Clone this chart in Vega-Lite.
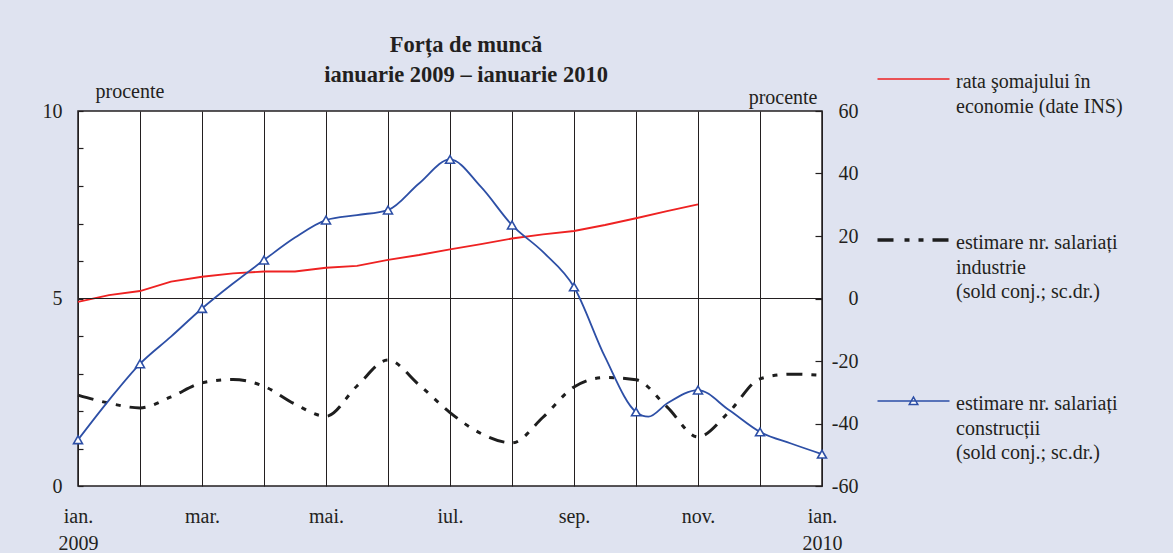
{
  "$schema": "https://vega.github.io/schema/vega-lite/v6.json",
  "width": 744,
  "height": 375,
  "autosize": {"type": "none"},
  "padding": {"left": 78, "top": 111, "right": 351, "bottom": 67},
  "background": "#dfe3f0",
  "config": {
    "view": {"fill": "white", "stroke": "#231f20", "strokeWidth": 1.5},
    "font": "Liberation Serif",
    "axis": {"labelFont": "Liberation Serif", "labelFontSize": 20, "labelColor": "#231f20", "titleFont": "Liberation Serif", "titleFontSize": 20, "titleFontWeight": "normal", "titleColor": "#231f20", "tickColor": "#231f20", "tickWidth": 1.2}
  },
  "title": {
    "text": ["Forța de muncă", "ianuarie 2009 – ianuarie 2010"],
    "font": "Liberation Serif",
    "fontSize": 22.5,
    "fontWeight": "bold",
    "color": "#231f20",
    "anchor": "middle",
    "frame": "group",
    "dx": 16,
    "offset": -17,
    "lineHeight": 29.5
  },
  "datasets": {
    "somaj": [
      {"serie": "s", "luna": 0, "v": 4.91}, {"serie": "s", "luna": 0.5, "v": 5.09}, {"serie": "s", "luna": 1, "v": 5.2},
      {"serie": "s", "luna": 1.5, "v": 5.45}, {"serie": "s", "luna": 2, "v": 5.58}, {"serie": "s", "luna": 2.5, "v": 5.67},
      {"serie": "s", "luna": 3, "v": 5.72}, {"serie": "s", "luna": 3.5, "v": 5.72}, {"serie": "s", "luna": 4, "v": 5.82},
      {"serie": "s", "luna": 4.5, "v": 5.87}, {"serie": "s", "luna": 5, "v": 6.03}, {"serie": "s", "luna": 5.5, "v": 6.16},
      {"serie": "s", "luna": 6, "v": 6.31}, {"serie": "s", "luna": 6.5, "v": 6.45}, {"serie": "s", "luna": 7, "v": 6.6},
      {"serie": "s", "luna": 7.5, "v": 6.71}, {"serie": "s", "luna": 8, "v": 6.8}, {"serie": "s", "luna": 8.5, "v": 6.96},
      {"serie": "s", "luna": 9, "v": 7.14}, {"serie": "s", "luna": 9.5, "v": 7.33}, {"serie": "s", "luna": 10, "v": 7.51}
    ],
    "industrie": [
      {"serie": "i", "luna": 0, "v": -30.9}, {"serie": "i", "luna": 0.5, "v": -33.5}, {"serie": "i", "luna": 1, "v": -35.0},
      {"serie": "i", "luna": 1.5, "v": -31.5}, {"serie": "i", "luna": 2, "v": -27.0}, {"serie": "i", "luna": 2.5, "v": -25.9},
      {"serie": "i", "luna": 3, "v": -28.1}, {"serie": "i", "luna": 3.5, "v": -33.8}, {"serie": "i", "luna": 4, "v": -37.7},
      {"serie": "i", "luna": 4.5, "v": -28.0}, {"serie": "i", "luna": 5, "v": -19.7}, {"serie": "i", "luna": 5.5, "v": -27.6},
      {"serie": "i", "luna": 6, "v": -36.5}, {"serie": "i", "luna": 6.5, "v": -43.2}, {"serie": "i", "luna": 7, "v": -46.2},
      {"serie": "i", "luna": 7.5, "v": -38.0}, {"serie": "i", "luna": 8, "v": -28.3}, {"serie": "i", "luna": 8.5, "v": -25.3},
      {"serie": "i", "luna": 9, "v": -26.0}, {"serie": "i", "luna": 9.5, "v": -34.7}, {"serie": "i", "luna": 10, "v": -44.3},
      {"serie": "i", "luna": 10.5, "v": -36.3}, {"serie": "i", "luna": 11, "v": -25.7}, {"serie": "i", "luna": 11.5, "v": -24.2},
      {"serie": "i", "luna": 12, "v": -24.6}
    ],
    "constructii": [
      {"serie": "c", "luna": 0, "v": -45.2}, {"serie": "c", "luna": 0.5, "v": -32.5}, {"serie": "c", "luna": 1, "v": -20.9},
      {"serie": "c", "luna": 1.5, "v": -12.2}, {"serie": "c", "luna": 2, "v": -3.2}, {"serie": "c", "luna": 2.5, "v": 4.8},
      {"serie": "c", "luna": 3, "v": 12.3}, {"serie": "c", "luna": 3.5, "v": 19.5}, {"serie": "c", "luna": 4, "v": 25.1},
      {"serie": "c", "luna": 4.5, "v": 26.7}, {"serie": "c", "luna": 5, "v": 28.3}, {"serie": "c", "luna": 5.5, "v": 36.8},
      {"serie": "c", "luna": 6, "v": 44.5}, {"serie": "c", "luna": 6.5, "v": 35.7}, {"serie": "c", "luna": 7, "v": 23.5},
      {"serie": "c", "luna": 7.5, "v": 14.9}, {"serie": "c", "luna": 8, "v": 3.7}, {"serie": "c", "luna": 8.5, "v": -18.7},
      {"serie": "c", "luna": 9, "v": -36.3}, {"serie": "c", "luna": 9.2, "v": -37.8}, {"serie": "c", "luna": 9.5, "v": -33.6},
      {"serie": "c", "luna": 10, "v": -29.3}, {"serie": "c", "luna": 10.5, "v": -35.7}, {"serie": "c", "luna": 11, "v": -42.7},
      {"serie": "c", "luna": 11.5, "v": -46.4}, {"serie": "c", "luna": 12, "v": -49.8}
    ],
    "zero": [{"luna": 0, "v": 0}, {"luna": 12, "v": 0}]
  },
  "encoding": {
    "x": {
      "field": "luna", "type": "quantitative",
      "scale": {"domain": [0, 12], "nice": false, "zero": false},
      "axis": {
        "values": [0, 1, 2, 3, 4, 5, 6, 7, 8, 9, 10, 11, 12],
        "labelExpr": "datum.value === 0 ? ['ian.', '2009'] : datum.value === 12 ? ['ian.', '2010'] : datum.value === 2 ? 'mar.' : datum.value === 4 ? 'mai.' : datum.value === 6 ? 'iul.' : datum.value === 8 ? 'sep.' : datum.value === 10 ? 'nov.' : ''",
        "grid": true, "gridColor": "#231f20", "gridWidth": 1, "gridOpacity": 1,
        "ticks": false, "domain": false, "labelFlush": false, "labelOverlap": false,
        "labelPadding": 20, "labelBaseline": "top", "labelLineHeight": 27, "title": null
      }
    }
  },
  "layer": [
    {
      "data": {"name": "somaj"},
      "mark": {"type": "line", "strokeWidth": 1.8},
      "encoding": {
        "y": {
          "field": "v", "type": "quantitative",
          "scale": {"domain": [0, 10], "nice": false, "zero": false},
          "axis": {
            "orient": "left",
            "offset": -5,
            "values": [0, 1, 2, 3, 4, 5, 6, 7, 8, 9, 10],
            "labelExpr": "datum.value % 5 === 0 ? '' + datum.value : ''",
            "labelOverlap": false,
            "ticks": true,
            "tickSize": 5,
            "labelPadding": 16,
            "domain": false, "grid": false,
            "title": "procente", "titleAngle": 0, "titleX": 12, "titleY": -14,
            "titleAlign": "left", "titleBaseline": "alphabetic"
          }
        },
        "color": {
          "field": "serie", "type": "nominal",
          "scale": {"domain": ["s", "i", "c"], "range": ["#ee2222", "#1e1e1e", "#2d4fa6"]},
          "legend": {
            "orient": "none", "legendX": 799, "legendY": -42,
            "direction": "vertical", "columns": 1,
            "title": null, "padding": 0,
            "symbolType": "stroke", "symbolSize": 5184, "symbolStrokeWidth": 1.5, "symbolOffset": 26.5,
            "labelOffset": 32.5, "labelFontSize": 20, "labelFont": "Liberation Serif", "labelColor": "#231f20",
            "labelBaseline": "top", "labelLimit": 400, "rowPadding": 89, "gridAlign": "all",
            "labelExpr": "datum.value === 's' ? ['rata şomajului în', 'economie (date INS)'] : datum.value === 'i' ? ['estimare nr. salariați', 'industrie', '(sold conj.; sc.dr.)'] : ['estimare nr. salariați', 'construcții', '(sold conj.; sc.dr.)']",
            "encode": {
              "symbols": {"update": {
                "shape": {"signal": "datum.value === 'c' ? 'M-1,0H1M0,-0.11L0.12,0.1H-0.12Z' : 'M-1,0H1'"},
                "strokeDash": {"signal": "datum.value === 'i' ? [16, 11, 5, 9, 5, 9] : [1, 0]"},
                "strokeWidth": {"signal": "datum.value === 'i' ? 3.5 : 1.5"},
                "fill": {"value": "white"}
              }},
              "labels": {"update": {"dy": {"value": -7}, "lineHeight": {"value": 24.5}}}
            }
          }
        }
      }
    },
    {
      "encoding": {
        "y": {
          "field": "v", "type": "quantitative",
          "scale": {"domain": [-60, 60], "nice": false, "zero": false},
          "axis": {
            "orient": "right",
            "offset": -7,
            "values": [-60, -40, -20, 0, 20, 40, 60],
            "labelExpr": "'' + datum.value",
            "ticks": true,
            "tickSize": 7, "labelAlign": "right", "labelPadding": 36,
            "domain": false, "grid": false,
            "title": "procente", "titleAngle": 0, "titleX": 2, "titleY": -8,
            "titleAlign": "right", "titleBaseline": "alphabetic"
          }
        }
      },
      "layer": [
        {
          "data": {"name": "zero"},
          "mark": {"type": "line", "color": "#231f20", "strokeWidth": 1.2}
        },
        {
          "data": {"name": "industrie"},
          "mark": {"type": "line", "strokeWidth": 3, "strokeDash": [16, 9, 5, 9, 5, 9], "interpolate": "monotone"},
          "encoding": {"color": {"field": "serie", "type": "nominal"}}
        },
        {
          "data": {"name": "constructii"},
          "mark": {"type": "line", "strokeWidth": 1.8, "interpolate": "monotone"},
          "encoding": {"color": {"field": "serie", "type": "nominal"}}
        },
        {
          "data": {"name": "constructii"},
          "transform": [{"filter": "datum.luna % 1 === 0"}],
          "mark": {"type": "point", "shape": "triangle-up", "size": 80, "filled": true, "fill": "white", "stroke": "#2d4fa6", "strokeWidth": 1.6, "opacity": 1}
        }
      ]
    }
  ],
  "resolve": {"scale": {"y": "independent"}}
}
